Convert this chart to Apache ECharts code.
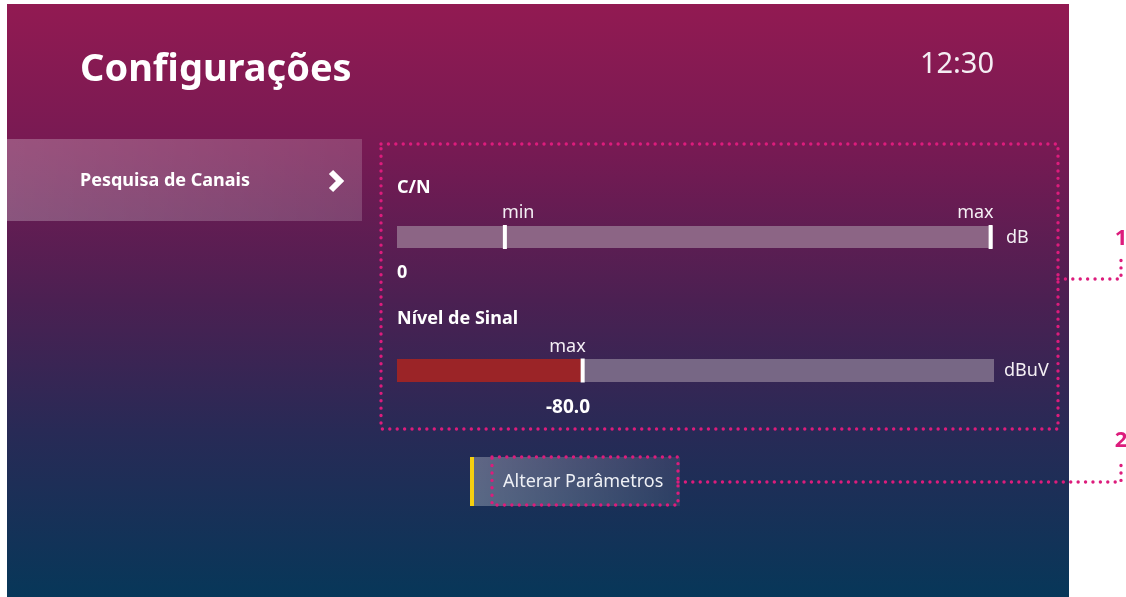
<!DOCTYPE html>
<html>
<head>
<meta charset="utf-8">
<script src="https://cdn.jsdelivr.net/npm/echarts@6/dist/echarts.min.js"></script>
<style>
  html, body { margin: 0; padding: 0; background: #fff; }
  #main { width: 1126px; height: 597px; }
</style>
</head>
<body>
<div id="main"></div>
<script>
// meters shown on the screen
const meterNames = ['C/N', 'Nível de Sinal'];
const meterUnits = ['dB', 'dBuV'];
const meterReadouts = ['0', '-80.0'];
// filled part of each bar, in % of the bar length
const meterFill = [0, 30.8];
// marker positions (% of bar) and their labels
const cnMarkers = [18.1, 99.6];
const cnMarkerLabels = ['min', 'max'];
const signalMarkers = [31.1];
const signalMarkerLabels = ['max'];

const FONT = 'Noto Sans';
const DOT = '#dc1c7c';

function markerData(pos, labels) {
  return pos.map((p, i) => ({
    value: [p, 0],
    label: {
      formatter: labels[i],
      align: labels[i] === 'min' ? 'left' : 'right',
      offset: labels[i] === 'min' ? [-3, 0] : [3, 0]
    }
  }));
}

function meterSeries(idx, trackColor, markers, labels) {
  return [
    {
      type: 'bar', xAxisIndex: idx, yAxisIndex: idx, silent: true,
      data: [100], barWidth: 23, itemStyle: { color: trackColor }
    },
    {
      type: 'bar', xAxisIndex: idx, yAxisIndex: idx, silent: true,
      data: [meterFill[idx]], barWidth: 23, barGap: '-100%',
      itemStyle: { color: '#9b2427' }
    },
    {
      type: 'scatter', xAxisIndex: idx, yAxisIndex: idx, silent: true,
      symbol: 'rect', symbolSize: [4, 24], z: 5,
      itemStyle: { color: '#ffffff', opacity: 1 },
      label: {
        show: true, position: 'top', distance: 3,
        color: '#f4eff4', fontFamily: FONT, fontSize: 18
      },
      data: markerData(markers, labels)
    }
  ];
}

function dotted(points) {
  return {
    type: 'polyline',
    shape: { points: points },
    style: { stroke: DOT, lineWidth: 3.4, lineDash: [0.01, 7.4], lineCap: 'round', fill: null }
  };
}

function dottedRect(x, y, w, h) {
  return dotted([[x, y], [x + w, y], [x + w, y + h], [x, y + h], [x, y]]);
}

const txt = (x, y, text, size, weight, extra) => ({
  type: 'text', x: x, y: y,
  style: Object.assign({
    text: text, fill: '#ffffff', font: (weight || 'normal') + ' ' + size + 'px "' + FONT + '"',
    verticalAlign: 'middle'
  }, extra || {})
});

const chart = echarts.init(document.getElementById('main'));

chart.setOption({
  animation: false,
  grid: [
    { left: 397, top: 226, width: 596, height: 22 },
    { left: 397, top: 359, width: 597, height: 23 }
  ],
  xAxis: [
    { gridIndex: 0, type: 'value', min: 0, max: 100, show: false },
    { gridIndex: 1, type: 'value', min: 0, max: 100, show: false }
  ],
  yAxis: [
    { gridIndex: 0, type: 'category', data: [meterNames[0]], show: false },
    { gridIndex: 1, type: 'category', data: [meterNames[1]], show: false }
  ],
  series: [].concat(
    meterSeries(0, '#8c6585', cnMarkers, cnMarkerLabels),
    meterSeries(1, '#776785', signalMarkers, signalMarkerLabels)
  ),
  graphic: [
    {
      type: 'rect', z: -10,
      shape: { x: 7, y: 4, width: 1062, height: 593 },
      style: {
        fill: new echarts.graphic.LinearGradient(0, 0, 0, 1, [
          { offset: 0, color: '#921a52' },
          { offset: 0.25, color: '#761a53' },
          { offset: 0.5, color: '#4b2052' },
          { offset: 0.72, color: '#282a56' },
          { offset: 1, color: '#073759' }
        ])
      }
    },
    txt(80, 70, 'Configurações', 38, 'bold'),
    txt(994, 65, '12:30', 29, 'normal', { align: 'right', fill: '#f4eef3' }),
    // side menu
    {
      type: 'rect',
      shape: { x: 7, y: 139, width: 355, height: 82 },
      style: {
        fill: new echarts.graphic.LinearGradient(0, 0, 1, 0, [
          { offset: 0, color: 'rgba(255,255,255,0.25)' },
          { offset: 1, color: 'rgba(255,255,255,0.17)' }
        ])
      }
    },
    txt(80, 181, 'Pesquisa de Canais', 18, 'bold'),
    {
      type: 'polyline',
      shape: { points: [[331, 172], [340, 181], [331, 190]] },
      style: { stroke: '#ffffff', lineWidth: 6, fill: null, lineJoin: 'miter' }
    },
    // meter panel
    txt(397, 188, meterNames[0], 18, 'bold'),
    txt(1006, 238, meterUnits[0], 18, 'normal', { fill: '#f4eff4' }),
    txt(397, 273, meterReadouts[0], 18, 'bold'),
    txt(397, 319, meterNames[1], 18, 'bold'),
    txt(1004, 371, meterUnits[1], 18, 'normal', { fill: '#f4eff4' }),
    txt(568, 408, meterReadouts[1], 19, 'bold', { align: 'center' }),
    // button
    {
      type: 'rect',
      shape: { x: 473, y: 457, width: 207, height: 49 },
      style: {
        fill: new echarts.graphic.LinearGradient(0, 0, 1, 0, [
          { offset: 0, color: 'rgba(255,255,255,0.28)' },
          { offset: 1, color: 'rgba(255,255,255,0.08)' }
        ])
      }
    },
    { type: 'rect', shape: { x: 470, y: 457, width: 4, height: 49 }, style: { fill: '#f5cf0f' } },
    txt(503, 482, 'Alterar Parâmetros', 18, 'normal', { fill: '#eef0f5' }),
    // annotations
    dottedRect(381, 144, 677, 285),
    dottedRect(492, 457, 186, 48),
    dotted([[1058, 279], [1121, 279], [1121, 258]]),
    dotted([[678, 482], [1121, 482], [1121, 462]]),
    txt(1121, 239, '1', 22, 'bold', { fill: DOT, align: 'center' }),
    txt(1121, 441, '2', 22, 'bold', { fill: DOT, align: 'center' })
  ]
});
</script>
</body>
</html>
